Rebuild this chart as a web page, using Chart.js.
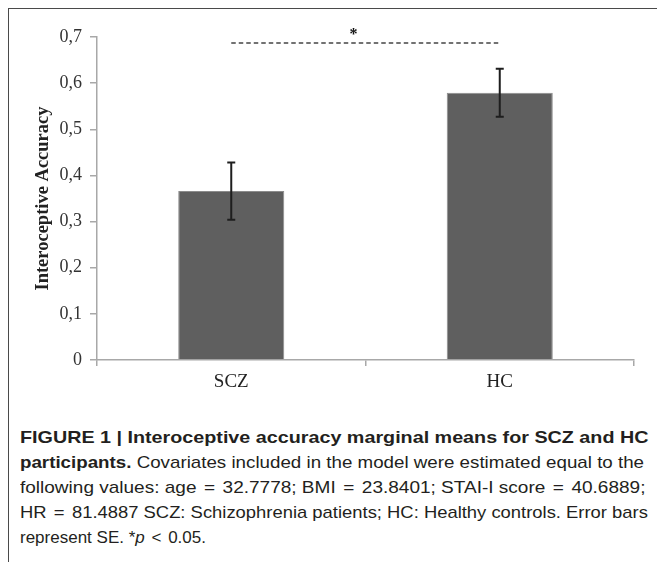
<!DOCTYPE html>
<html>
<head>
<meta charset="utf-8">
<script src="https://cdn.jsdelivr.net/npm/chart.js@4.4.1/dist/chart.umd.min.js"></script>
<style>
  html, body { margin: 0; padding: 0; background: #fff; }
  body { width: 657px; height: 562px; position: relative; overflow: hidden; }
  #frame { position: absolute; left: 8px; top: 8px; width: 700px; height: 600px;
           border-left: 1.5px solid #4a4a4a; border-top: 1.5px solid #4a4a4a; box-sizing: border-box; }
  #chart { position: absolute; left: 0; top: 0; }
  .cap { position: absolute; left: 20px; white-space: nowrap; font-family: 'Liberation Sans', Arial, sans-serif;
         font-size: 17px; line-height: 20px; color: #231f20; transform-origin: 0 0; }
  .cap b { font-weight: bold; }
  .op { margin: 0 2px; }
</style>
</head>
<body>
<div id="frame"></div>
<canvas id="chart" width="657" height="420"></canvas>
<div class="cap" id="l1" data-w="628" style="top:428px"><b>FIGURE 1 | Interoceptive accuracy marginal means for SCZ and HC</b></div>
<div class="cap" id="l2" data-w="624" style="top:453px"><b>participants.</b> Covariates included in the model were estimated equal to the</div>
<div class="cap" id="l3" data-w="625" style="top:478px">following values: age <span class="op">=</span> 32.7778; BMI <span class="op">=</span> 23.8401; STAI-I score <span class="op">=</span> 40.6889;</div>
<div class="cap" id="l4" data-w="628" style="top:503px">HR <span class="op">=</span> 81.4887 SCZ: Schizophrenia patients; HC: Healthy controls. Error bars</div>
<div class="cap" id="l5" data-w="186" style="top:528px">represent SE. *<i>p</i> <span class="op">&lt;</span> 0.05.</div>
<script>
// ---- data ----
const categories = ['SCZ', 'HC'];
const means = [0.366, 0.579];
const stdErrors = [0.062, 0.052];
const yTicks = [0, 0.1, 0.2, 0.3, 0.4, 0.5, 0.6, 0.7];
const sigPair = [0, 1];          // categories compared
const sigLevel = [0.687];        // y value of the significance line
const sigMark = ['*'];
const sigMarkPos = [0.455];      // category-axis position of the asterisk

const serif = "'Liberation Serif', 'Times New Roman', serif";

const overlay = {
  id: 'overlay',
  afterDatasetsDraw(chart) {
    const ctx = chart.ctx;
    const xs = chart.scales.x, ys = chart.scales.y;
    ctx.save();
    // error bars
    ctx.strokeStyle = '#1e1e1e';
    ctx.lineWidth = 2;
    means.forEach((m, i) => {
      const x = xs.getPixelForValue(i);
      const yHi = ys.getPixelForValue(m + stdErrors[i]);
      const yLo = ys.getPixelForValue(m - stdErrors[i]);
      ctx.beginPath();
      ctx.moveTo(x, yHi); ctx.lineTo(x, yLo);
      ctx.moveTo(x - 4, yHi); ctx.lineTo(x + 4, yHi);
      ctx.moveTo(x - 4, yLo); ctx.lineTo(x + 4, yLo);
      ctx.stroke();
    });
    // significance line
    const y = ys.getPixelForValue(sigLevel[0]);
    ctx.strokeStyle = '#444';
    ctx.lineWidth = 1.5;
    ctx.setLineDash([4.5, 3]);
    ctx.beginPath();
    ctx.moveTo(xs.getPixelForValue(sigPair[0]), y);
    ctx.lineTo(xs.getPixelForValue(sigPair[1]), y);
    ctx.stroke();
    ctx.setLineDash([]);
    ctx.fillStyle = '#111';
    ctx.font = "bold 16px " + serif;
    ctx.textAlign = 'center';
    ctx.textBaseline = 'middle';
    ctx.fillText(sigMark[0], xs.getPixelForValue(sigMarkPos[0]), y - 8);
    ctx.restore();
  }
};

new Chart(document.getElementById('chart'), {
  type: 'bar',
  data: {
    labels: categories,
    datasets: [{
      data: means,
      backgroundColor: '#5f5f5f',
      borderColor: '#8c8c8c',
      borderWidth: 1,
      barPercentage: 0.395,
      categoryPercentage: 1
    }]
  },
  options: {
    responsive: false,
    animation: false,
    events: [],
    layout: { padding: { left: 0, right: 23, top: 37, bottom: 0 } },
    plugins: { legend: { display: false }, tooltip: { enabled: false } },
    scales: {
      x: {
        grid: { drawOnChartArea: false, drawTicks: true, tickLength: 6, offset: true, color: '#a8a8a8', lineWidth: 1.5 },
        border: { color: '#a8a8a8', width: 1.5 },
        ticks: { color: '#222', font: { family: serif, size: 19 }, padding: 5 },
        afterFit(s) { s.height = 60; }
      },
      y: {
        min: 0, max: 0.7,
        afterBuildTicks(s) { s.ticks = yTicks.map(v => ({ value: v })); },
        grid: { drawOnChartArea: false, drawTicks: true, tickLength: 7, color: '#a8a8a8', lineWidth: 1.5 },
        border: { color: '#a8a8a8', width: 1.5 },
        ticks: {
          color: '#333', font: { family: serif, size: 18 }, padding: 8,
          callback: v => v === 0 ? '0' : Number(v).toFixed(1).replace('.', ',')
        },
        title: {
          display: true, text: 'Interoceptive Accuracy', color: '#222',
          font: { family: serif, size: 18.5, weight: 'bold' },
          padding: { top: 32, bottom: 0 }
        },
        afterFit(s) { s.width = 97; }
      }
    }
  },
  plugins: [overlay]
});

// caption: each line condensed to its measured width in the reference
document.querySelectorAll('.cap').forEach(el => {
  const s = parseFloat(el.dataset.w) / el.scrollWidth;
  el.style.transform = 'scaleX(' + s + ')';
});
</script>
</body>
</html>
